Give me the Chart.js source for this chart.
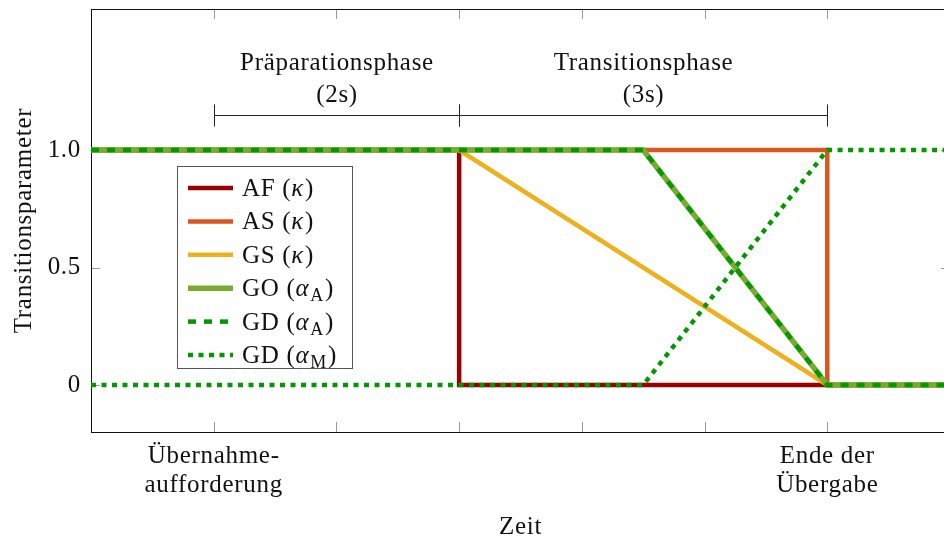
<!DOCTYPE html>
<html>
<head>
<meta charset="utf-8">
<script src="https://cdn.jsdelivr.net/npm/chart.js@4.4.1/dist/chart.umd.min.js"></script>
<style>
  html, body { margin: 0; padding: 0; overflow: hidden; background: #fff; }
  canvas { display: block; }
</style>
</head>
<body>
<canvas id="chart" width="952" height="539"></canvas>
<script>
// Time axis in seconds, 0 = takeover request
const timeRange = [-1, 6];
const paramRange = [-0.2, 1.6];
const xTickValues = [-1, 0, 1, 2, 3, 4, 5, 6];
const xTickLabels = { 0: ['Übernahme-', 'aufforderung'], 5: ['Ende der', 'Übergabe'] };
const yTickValues = [0, 0.5, 1];

// Legend texts: name (symbol_sub)
const seriesNames = ['AF', 'AS', 'GS', 'GO', 'GD', 'GD'];
const seriesSymbols = ['κ', 'κ', 'κ', 'α', 'α', 'α'];
const seriesSubs = ['', '', '', 'A', 'A', 'M'];

// Transition parameter over time
const afTime = [-1, 2, 2, 6];
const afValue = [1, 1, 0, 0];
const asTime = [-1, 5, 5, 6];
const asValue = [1, 1, 0, 0];
const gsTime = [-1, 2, 5, 6];
const gsValue = [1, 1, 0, 0];
const goTime = [-1, 3.5, 5, 6];
const goValue = [1, 1, 0, 0];
const gdATime = [-1, 3.5, 5, 6];
const gdAValue = [1, 1, 0, 0];
const gdMTime = [-1, 3.5, 5, 6];
const gdMValue = [0, 0, 1, 1];

// Phases annotated above the curves
const phaseStart = [0, 2];
const phaseEnd = [2, 5];
const phaseNames = ['Präparationsphase', 'Transitionsphase'];
const phaseDurations = ['(2s)', '(3s)'];
const phaseBracketLevel = 1.15;

const FONT = "'Liberation Serif', 'Times New Roman', serif";
const TEXT = '#111';
const SPACING = '0.7px';

const seriesStyles = [
  { color: '#990000', width: 4.5, dash: [] },
  { color: '#DA561C', width: 4.5, dash: [] },
  { color: '#EDB120', width: 4.5, dash: [] },
  { color: '#77AC30', width: 5.5, dash: [] },
  { color: '#009900', width: 4.5, dash: [8, 8] },
  { color: '#009900', width: 4.5, dash: [5, 5.5] }
];

const seriesTimes = [afTime, asTime, gsTime, goTime, gdATime, gdMTime];
const seriesValues = [afValue, asValue, gsValue, goValue, gdAValue, gdMValue];

const datasets = seriesTimes.map((t, i) => ({
  label: seriesNames[i] + ' (' + seriesSymbols[i] + (seriesSubs[i] ? '_' + seriesSubs[i] : '') + ')',
  data: t.map((x, k) => ({ x: x, y: seriesValues[i][k] })),
  borderColor: seriesStyles[i].color,
  borderWidth: seriesStyles[i].width,
  borderDash: seriesStyles[i].dash,
  borderCapStyle: 'butt',
  borderJoinStyle: 'miter',
  pointRadius: 0,
  tension: 0,
  fill: false,
  // later series are painted on top
  order: seriesTimes.length - i
}));

const notesPlugin = {
  id: 'notes',
  beforeDraw(chart) {
    chart.ctx.letterSpacing = SPACING;
  },
  beforeDatasetsDraw(chart) {
    const { ctx, chartArea } = chart;
    const { left, right, top, bottom } = chartArea;
    const xs = chart.scales.x, ys = chart.scales.y;
    ctx.save();
    // inward tick marks
    ctx.strokeStyle = '#9a9a9a';
    ctx.lineWidth = 1;
    ctx.beginPath();
    xTickValues.forEach(v => {
      const px = Math.round(xs.getPixelForValue(v)) + 0.5;
      if (px <= left + 1 || px >= right - 1) return;
      ctx.moveTo(px, bottom); ctx.lineTo(px, bottom - 10);
      ctx.moveTo(px, top); ctx.lineTo(px, top + 10);
    });
    yTickValues.forEach(v => {
      const py = Math.round(ys.getPixelForValue(v)) + 0.5;
      ctx.moveTo(left, py); ctx.lineTo(left + 9, py);
      ctx.moveTo(right, py); ctx.lineTo(right - 9, py);
    });
    ctx.stroke();
    // frame
    ctx.strokeStyle = '#111';
    ctx.strokeRect(left + 0.5, top + 0.5, right - left, bottom - top);
    ctx.restore();
  },
  afterDraw(chart) {
    const { ctx, chartArea } = chart;
    const xs = chart.scales.x, ys = chart.scales.y;
    ctx.save();
    ctx.letterSpacing = SPACING;

    // phase brackets with captions
    const by = Math.round(ys.getPixelForValue(phaseBracketLevel)) + 0.5;
    ctx.strokeStyle = '#222';
    ctx.lineWidth = 1;
    ctx.fillStyle = TEXT;
    ctx.font = '25px ' + FONT;
    ctx.textAlign = 'center';
    ctx.textBaseline = 'alphabetic';
    phaseStart.forEach((s, i) => {
      const x0 = Math.round(xs.getPixelForValue(s)) + 0.5;
      const x1 = Math.round(xs.getPixelForValue(phaseEnd[i])) + 0.5;
      ctx.beginPath();
      ctx.moveTo(x0, by); ctx.lineTo(x1, by);
      ctx.moveTo(x0, by - 11); ctx.lineTo(x0, by + 11);
      ctx.moveTo(x1, by - 11); ctx.lineTo(x1, by + 11);
      ctx.stroke();
      const cx = (x0 + x1) / 2;
      ctx.fillText(phaseNames[i], cx, by - 46);
      ctx.fillText(phaseDurations[i], cx, by - 14);
    });

    // legend box
    const lx = chartArea.left + 86, ly = chartArea.top + 157;
    const lw = 175, lh = 202;
    ctx.fillStyle = '#fff';
    ctx.fillRect(lx, ly, lw, lh);
    ctx.strokeStyle = '#555';
    ctx.lineWidth = 1;
    ctx.strokeRect(lx + 0.5, ly + 0.5, lw, lh);
    ctx.textAlign = 'left';
    chart.data.datasets.forEach((ds, i) => {
      const cy = ly + 22 + i * 33.4;
      ctx.beginPath();
      ctx.strokeStyle = ds.borderColor;
      ctx.lineWidth = ds.borderWidth;
      ctx.setLineDash(ds.borderDash);
      ctx.lineCap = 'butt';
      ctx.moveTo(lx + 11, cy); ctx.lineTo(lx + 56, cy);
      ctx.stroke();
      ctx.setLineDash([]);
      let tx = lx + 65;
      const base = cy + 8;
      ctx.fillStyle = TEXT;
      ctx.font = '25px ' + FONT;
      const head = seriesNames[i] + ' (';
      ctx.fillText(head, tx, base); tx += ctx.measureText(head).width;
      ctx.font = 'italic 25px ' + FONT;
      ctx.fillText(seriesSymbols[i], tx, base); tx += ctx.measureText(seriesSymbols[i]).width + 1;
      if (seriesSubs[i]) {
        ctx.font = '18px ' + FONT;
        ctx.fillText(seriesSubs[i], tx, base + 5); tx += ctx.measureText(seriesSubs[i]).width + 1;
      }
      ctx.font = '25px ' + FONT;
      ctx.fillText(')', tx, base);
    });
    ctx.restore();
  }
};

Chart.defaults.font.family = FONT;
Chart.defaults.font.size = 25;
Chart.defaults.color = TEXT;

new Chart(document.getElementById('chart'), {
  type: 'line',
  data: { datasets: datasets },
  plugins: [notesPlugin],
  options: {
    responsive: false,
    animation: false,
    events: [],
    layout: { padding: { top: 9, right: 2, left: 0, bottom: 0 } },
    plugins: { legend: { display: false }, tooltip: { enabled: false } },
    scales: {
      x: {
        type: 'linear',
        min: timeRange[0],
        max: timeRange[1],
        afterBuildTicks(scale) { scale.ticks = xTickValues.map(v => ({ value: v })); },
        afterFit(scale) { scale.height = 107; scale.paddingLeft = 0; scale.paddingRight = 0; },
        grid: { display: false, drawTicks: false },
        border: { display: false },
        ticks: {
          autoSkip: false,
          maxRotation: 0,
          padding: 10,
          font: { size: 25, lineHeight: 1.16 },
          callback: v => xTickLabels[v] || ''
        },
        title: {
          display: true, text: 'Zeit', color: TEXT,
          font: { size: 25, lineHeight: 0.9 },
          padding: { top: 0, bottom: 0 }
        }
      },
      y: {
        type: 'linear',
        min: paramRange[0],
        max: paramRange[1],
        afterBuildTicks(scale) { scale.ticks = yTickValues.map(v => ({ value: v })); },
        afterFit(scale) { scale.width = 91; scale.paddingTop = 0; scale.paddingBottom = 0; },
        grid: { display: false, drawTicks: false },
        border: { display: false },
        ticks: {
          padding: 10,
          callback: v => (v === 0 ? '0' : v.toFixed(1))
        },
        title: {
          display: true, text: 'Transitionsparameter', color: TEXT,
          font: { size: 25, lineHeight: 1.2 },
          padding: { top: 9, bottom: 0 }
        }
      }
    }
  }
});
</script>
</body>
</html>
